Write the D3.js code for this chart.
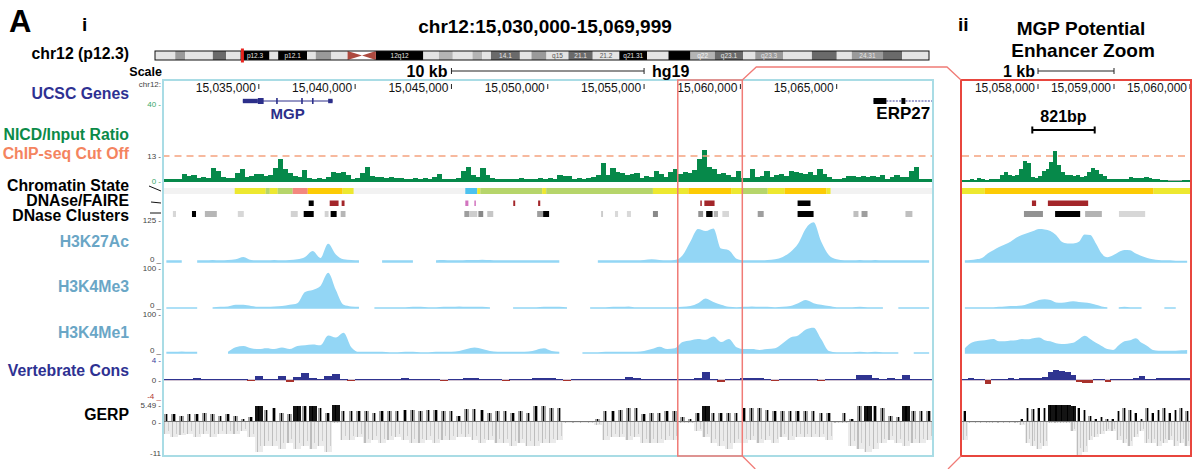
<!DOCTYPE html>
<html>
<head>
<meta charset="utf-8">
<script src="https://cdn.jsdelivr.net/npm/d3@7"></script>
<style>
  body { margin: 0; background: #fff; }
  svg { display: block; }
  text { font-family: "Liberation Sans", Arial, Helvetica, sans-serif; }
</style>
</head>
<body>
<svg id="fig" width="1201" height="469"></svg>
<script>
// ---------------- genomic windows ----------------
const viewRange = [15030000, 15070000];          // panel i
const zoomRange = [15057000, 15060000];          // panel ii
const highlightRange = [15056750, 15060100];     // box drawn in panel i
const enhancerRange = [15057925, 15058746];      // 821 bp candidate enhancer
const scaleBarMain = [15045000, 15055000];       // 10 kb
const scaleBarZoom = [15058000, 15059000];       // 1 kb
const mainTicks = [15035000, 15040000, 15045000, 15050000, 15055000, 15060000, 15065000];
const zoomTicks = [15058000, 15059000, 15060000];

// ---------------- chr12 ideogram (Mb) ----------------
const chr12Length = 133.85;
const currentPos = [15.03, 15.07];
const ideogramBands = [
  [0, 3.5, "", "gneg"], [3.5, 5.2, "", "gpos50"], [5.2, 10.0, "", "gneg"],
  [10.0, 12.3, "", "gpos75"], [12.3, 14.8, "", "gneg"], [14.8, 19.8, "p12.3", "gpos100"],
  [19.8, 21.3, "", "gneg"], [21.3, 26.3, "p12.1", "gpos100"], [26.3, 27.8, "", "gneg"],
  [27.8, 30.5, "", "gpos50"], [30.5, 33.3, "", "gneg"], [33.3, 35.8, "", "acenP"],
  [35.8, 38.2, "", "acenQ"], [38.2, 46.4, "12q12", "gpos100"], [46.4, 49.1, "", "gneg"],
  [49.1, 51.5, "", "gpos25"], [51.5, 54.9, "", "gneg"], [54.9, 56.6, "", "gpos25"],
  [56.6, 58.1, "", "gneg"], [58.1, 63.1, "14.1", "gpos75"], [63.1, 65.1, "", "gneg"],
  [65.1, 67.7, "", "gpos50"], [67.7, 71.5, "q15", "gneg"], [71.5, 75.7, "21.1", "gpos75"],
  [75.7, 80.3, "21.2", "gneg"], [80.3, 85.1, "q21.31", "gpos100"], [85.1, 88.8, "", "gneg"],
  [88.8, 92.6, "", "gpos100"], [92.6, 96.8, "q22", "gpos25"], [96.8, 101.7, "q23.1", "gpos75"],
  [101.7, 103.8, "", "gneg"], [103.8, 108.6, "q23.3", "gpos50"], [108.6, 113.6, "", "gneg"],
  [113.6, 117.9, "", "gpos75"], [117.9, 120.5, "", "gneg"], [120.5, 125.9, "24.31", "gpos50"],
  [125.9, 129.2, "", "gpos75"], [129.2, 133.85, "", "gneg"]
];

// ---------------- genes ----------------
const genes = [
  { name: "MGP", color: "#2c2f8a", labelColor: "#2c2f8a",
    exons: [[15034170, 15034950, "utr"], [15034950, 15035250, "cds"], [15035900, 15035960, "cds"],
            [15037200, 15037260, "cds"], [15037760, 15037820, "cds"], [15038600, 15038830, "utr"]],
    span: [15034170, 15038830] },
  { name: "ERP27", color: "#000000", labelColor: "#000000",
    exons: [[15066910, 15067580, "cds"], [15068360, 15068565, "cds"]],
    span: [15066910, 15070000] }
];

// ---------------- NICD / input ratio ----------------
const nicdBinMain = 250;
const nicdMain = [
  1,0.8,1,1.2,3.5,2.5,3,1.5,2,1.5, 6.8,5,2,1.5,1.5,4,6,2,2.5,3.5,
  3.5,2.5,3,7,11.5,6,4,2.5,2,5.5, 1.5,1,1.5,1,2,4.5,4,4.5,3,1,
  1.5,4,7.5,2.5,2,2,1.5,2,1.5,1.5, 1,1,1.5,1,1.5,1,2,3.6,1,1,
  1,1.5,5,7.5,3,2,6.5,3,1.5,1, 1,1,1,1,1.5,1,1,1,1.5,1,
  1.5,1,3,2.5,2.5,1,1.5,1,1.5,2, 3,9.4,3,6.8,4.5,4,3,3.5,4,1.5,
  2.5,2,5,3.5,2,4.5,6,3.5,4.5,4, 5.5,11.5,16,7.5,6,3.5,4,3,2,5,
  1.5,1.5,6,2,2.5,5,2,3,3.5,2.5, 5,4.5,4,3.5,4.5,3,6,3.5,2,0.8,
  0.8,1.5,2.5,2.5,2,2.5,2,2.5,2,3, 1,2,3,2,2,5,7.5,1,0.8,0.8
];
const nicdBinZoom = 50;
const nicdZoom = [
  0.5,0.5,0.8,0.5,1.6,1,0.5,0.8,0.8,1, 3.1,4.7,3.1,2.6,3.1,6.2,10.4,9.4,2.1,1.6,
  2.6,5.2,6.2,9.9,15.6,8.3,4.7,3.1,3.1,2.6, 3.1,2.1,2.6,4.7,6.8,5.7,3.6,2.6,1,1,
  0.8,0.8,1,1,2.1,1.8,1.6,1.6,2.3,1.3, 0.8,0.8,0.5,0.3,0,0,0,0,0.5,0.5
];
const chipCutOff = 13;

// ---------------- chromatin state segments ----------------
const chromStateColors = {
  weakEnh: "#ede830", strongEnh: "#fccb05", weakTxn: "#b6d56b",
  weakProm: "#f3877f", insulator: "#4cc2ef"
};
const chromStates = [
  [15033750, 15035360, "weakEnh"], [15035360, 15035570, "weakTxn"], [15035570, 15035980, "weakEnh"],
  [15035980, 15036760, "weakTxn"], [15036760, 15037540, "weakProm"], [15037540, 15039350, "strongEnh"],
  [15039350, 15039920, "weakEnh"], [15045720, 15046340, "insulator"], [15046340, 15046500, "weakEnh"],
  [15046500, 15049710, "weakTxn"], [15049710, 15049920, "weakEnh"], [15049920, 15055460, "weakTxn"],
  [15055460, 15057300, "weakEnh"], [15057300, 15059520, "strongEnh"], [15059520, 15060120, "weakEnh"],
  [15060120, 15061420, "weakTxn"], [15061420, 15062300, "weakEnh"], [15062300, 15064470, "strongEnh"],
  [15064470, 15064680, "weakEnh"]
];

// ---------------- DNase / FAIRE peaks ----------------
const dnaseFaireColors = { dnase: "#a3262a", faire: "#d274bf", both: "#000000" };
const dnaseFaire = [
  [15037590, 15037850, "both"], [15038680, 15039140, "dnase"], [15039300, 15039450, "dnase"],
  [15045720, 15045880, "faire"], [15046190, 15046240, "faire"], [15048210, 15048310, "dnase"],
  [15049500, 15049610, "dnase"], [15057920, 15057975, "dnase"], [15058130, 15058660, "dnase"],
  [15062970, 15063640, "both"]
];

// ---------------- DNase clusters (score 0-1000) ----------------
const dnaseClusters = [
  [15030540, 15030700, 90], [15031530, 15031740, 1000], [15032200, 15032820, 230],
  [15033910, 15034220, 90], [15036660, 15037020, 110], [15037330, 15037850, 1000],
  [15038420, 15038620, 110], [15038730, 15039040, 1000], [15039250, 15039500, 230],
  [15045670, 15045930, 330], [15045930, 15046340, 130], [15046400, 15046650, 420],
  [15046860, 15047170, 160], [15049450, 15049760, 330], [15049760, 15050070, 1000],
  [15052770, 15052870, 140], [15053490, 15053650, 80], [15054110, 15054320, 80],
  [15055460, 15055720, 420], [15057815, 15058065, 380], [15058225, 15058555, 1000],
  [15058620, 15058840, 240], [15059065, 15059410, 90], [15060900, 15061210, 330],
  [15062970, 15063800, 1000], [15065870, 15066130, 190], [15066290, 15066600, 330],
  [15068570, 15068930, 190]
];

// ---------------- histone marks ----------------
const histBinMain = 400;
const h3k27acMain = [
  5,5,5,null,5,5,6,5,6,8, 15,6,5,5,6,5,6,8,15,33,
  12,54,22,8,6,5,null,null,5,5, 5,5,5,null,null,5,6,5,5,6,
  6,7,6,5,5,5,5,5,5,5, 5,5,null,null,null,null,5,5,5,5,
  5,5,6,8,6,5,6,20,60,98, 92,100,40,35,10,5,5,5,6,8,
  15,30,55,100,118,60,20,8,5,5, 6,5,6,5,5,5,5,5,5,5
];
const h3k4me3Main = [
  2,2,2,2,2,null,2,3,4,8, 8,5,3,3,4,5,8,12,40,45,
  55,88,45,8,4,3,null,2,2,2, 2,2,3,3,2,2,3,3,4,3,
  3,3,2,null,null,2,2,2,2,3, 3,3,2,null,null,2,2,2,3,3,
  4,2,2,2,2,2,2,3,5,12, 24,15,8,3,2,3,4,3,3,2,
  3,5,12,20,12,8,5,2,2,2, 3,2,2,2,null,2,2,2,2,2
];
const h3k4me1Main = [
  3,3,4,3,3,null,null,null,3,15, 18,12,10,12,10,14,10,18,20,22,
  20,45,40,52,15,3,3,3,3,2, 2,3,3,2,2,3,3,3,5,10,
  14,10,5,3,3,3,3,4,8,12, 5,3,null,null,2,2,2,3,3,3,
  3,3,5,10,16,10,12,28,32,36, 34,42,28,36,15,10,10,8,10,12,
  25,40,45,60,65,35,5,2,2,2, 3,2,3,2,2,2,null,2,2,2
];
const histBinZoom = 75;
const h3k27acZoom = [
  5,6,8,12,25,35,45,52,60,72, 80,86,92,98,97,92,80,60,55,55,
  60,82,80,55,25,14,20,30,36,35, 25,18,12,8,6,5,5,4,4,4
];
const h3k4me3Zoom = [
  2,2,2,2,2,2,3,4,5,5, 6,10,15,20,22,20,14,13,15,17,
  15,14,12,8,4,2,null,2,3,2, 2,2,null,null,null,2,2,2,null,2
];
const h3k4me1Zoom = [
  12,25,30,32,34,36,30,30,32,33, 36,35,38,40,33,30,25,23,24,26,
  35,44,36,26,18,10,8,20,30,33, 38,26,18,8,6,6,6,6,7,8
];

// ---------------- vertebrate conservation ----------------
const consBinMain = 400;
const consMain = [
  0.2,0.2,0.3,0.2,0.4,0.3,0.3,0.2,0.3,0.2, 0.2,-0.2,0.9,0.2,0.3,0.9,-0.3,0.6,1.5,0.4,
  0.3,0.8,1.2,0.3,-0.2,0.2,0.2,0.3,0.2,0.2, 0.2,0.5,0.3,0.2,0.3,0.3,-0.2,0.2,0.2,0.5,
  0.4,0.3,0.2,0.3,-0.2,0.2,0.2,0.2,0.4,0.5, 0.4,0.2,-0.1,0.2,0.2,0.2,0.2,0.3,0.2,0.3,
  0.6,0.4,0.2,0.2,0.2,0.2,0.2,0.2,0.2,0.4, 1.6,0.3,-0.3,0.2,0.2,0.5,0.5,0.4,0.2,-0.2,
  0.2,0.2,0.2,0.2,0.2,-0.2,0.2,0.2,0.2,0.3, 1.0,1.1,0.4,0.2,0.4,0.2,1.0,0.3,0.2,0.2
];
const consBinZoom = 75;
const consZoom = [
  0.3,0.4,0.2,0.3,-0.8,0.3,0.2,0.3,0.4,0.3, 0.5,0.4,0.4,0.5,0.6,1.6,2.1,1.9,1.6,1.1,
  -0.4,-0.6,-0.5,0.3,0.2,-0.3,0.3,0.2,0.3,0.3, 0.5,0.8,0.2,0.2,0.4,0.5,0.4,0.5,0.4,0.4
];

// ---------------- GERP ----------------
const gerpBinMain = 400;
const gerpMaxMain = [
  2.5,2.5,2,2.5,2.5,3,2.5,2,2.5,2, 1,1.5,5.3,4,4.5,3,2.5,5.2,5,5.3,
  4.5,3,5.4,3.5,3.5,3.5,3.5,3,3.5,3.5, 3.5,4,4,3.5,4,4,3.5,3.5,2,4.3,
  4.3,4,3,3.5,3.5,3,3.5,3,5,5, 4.5,4.5,0.3,0.2,0.2,0.3,1,3.5,3.5,4,
  4.5,4.5,2.5,3,3,3.5,3.5,1.5,0.8,3, 5.2,3,3,3,3,4.5,4.5,4.5,4,3.5,
  3.5,3.5,3.5,3.5,3.5,3,3,0.3,3,1, 5,5.2,5,4.5,2,1.5,5.3,3.5,3.5,3.5
];
const gerpMinMain = [
  -4,-5,-4.5,-4,-5,-4,-5,-4,-4,-4, -3,-5,-10,-8,-8,-9,-7,-9,-8,-9,
  -8,-10,-0.5,-6,-6,-5,-7,-6,-7,-6, -5,-6,-7,-7,-6,-7,-6,-6,-5,-5,
  -6,-7,-6,-7,-7,-8,-7,-8,-8,-7, -7,-6,-0.3,-0.3,-0.3,-0.4,-1,-6,-5,-5,
  -6,-5,-7,-7,-7,-6,-6,-0.5,-0.5,-3, -5,-7,-8,-9,-7,-7,-6,-7,-6,-7,
  -5,-6,-5,-5,-5,-5,-6,-0.4,-0.5,-8, -9,-10,-9,-7,-6,-7,-8,-7,-7,-6
];
const gerpBinZoom = 75;
const gerpMaxZoom = [
  3.5,0.3,0.2,0.2,0.2,0.2,0.2,0.2,0.3,0.3, 1,4.5,4.2,4.5,4.5,5.4,5.4,5.4,5.4,5.3,
  4.5,4,2,1,1.5,0.8,0.8,3.5,4.5,4, 3,1,4.5,3,4,4.5,3,4,4.5,3.5
];
const gerpMinZoom = [
  -6,-0.3,-0.3,-0.3,-0.4,-0.3,-0.3,-0.3,-0.3,-0.4, -1,-7,-8,-9,-8,-0.5,-0.5,-0.5,-0.5,-3,
  -11,-10,-6,-5,-4,-3,-3,-6,-7,-8, -5,-3,-7,-7,-8,-7,-6,-8,-7,-8
];

// ---------------- drawing ----------------
const svg = d3.select("#fig");
const defs = svg.append("defs");

const xMain = d3.scaleLinear().domain(viewRange).range([162.5, 933]);
const xZoom = d3.scaleLinear().domain(zoomRange).range([962, 1190]);

const yNicd = d3.scaleLinear().domain([0, 40]).range([181, 104]);
const yK27 = d3.scaleLinear().domain([0, 125]).range([262, 220]);
const yMe3 = d3.scaleLinear().domain([0, 100]).range([308, 268]);
const yMe1 = d3.scaleLinear().domain([0, 100]).range([353, 314]);
const yCons = d3.scaleLinear().domain([-4, 4]).range([400, 360]);
const yGerp = d3.scaleLinear().domain([-11, 5.49]).range([455, 405]);
const clusterShade = d3.scaleLinear().domain([0, 1000]).range(["#ececec", "#000000"]);

const TRACK_TOP = 80, TRACK_BOTTOM = 456;
const HIST_FILL = "#93d6f5";

function txt(g, s, x, y, opts = {}) {
  return g.append("text").attr("x", x).attr("y", y).text(s)
    .attr("font-size", opts.size || 12)
    .attr("font-weight", opts.bold ? "bold" : "normal")
    .attr("fill", opts.color || "#000")
    .attr("text-anchor", opts.anchor || "start");
}

function drawPanel(p, id) {
  const x = p.x;
  const [d0, d1] = x.domain();
  defs.append("clipPath").attr("id", "clip-" + id)
    .append("rect").attr("x", x(d0)).attr("y", TRACK_TOP).attr("width", x(d1) - x(d0)).attr("height", TRACK_BOTTOM - TRACK_TOP);
  const g = svg.append("g").attr("clip-path", `url(#clip-${id})`);

  // NICD / input ratio
  g.append("line").attr("x1", x(d0)).attr("x2", x(d1)).attr("y1", yNicd(0)).attr("y2", yNicd(0))
    .attr("stroke", "#8a8a8a").attr("stroke-width", 1.4);
  g.append("g").attr("shape-rendering", "crispEdges").selectAll("rect").data(p.nicd).join("rect")
    .attr("x", (d, i) => x(d0 + i * p.nicdBin))
    .attr("width", (d, i) => x(d0 + (i + 1) * p.nicdBin) - x(d0 + i * p.nicdBin) + 0.4)
    .attr("y", d => yNicd(d)).attr("height", d => yNicd(0) - yNicd(d) + 0.6)
    .attr("fill", "#06894a");
  g.append("line").attr("x1", x(d0)).attr("x2", x(d1)).attr("y1", yNicd(chipCutOff)).attr("y2", yNicd(chipCutOff))
    .attr("stroke", "#f5a27f").attr("stroke-width", 1.4).attr("stroke-dasharray", "7,5");

  // chromatin state
  g.append("rect").attr("x", x(d0)).attr("width", x(d1) - x(d0)).attr("y", 188).attr("height", 6).attr("fill", "#f2f2f2");
  g.selectAll(".cs").data(chromStates).join("rect").attr("class", "cs")
    .attr("x", d => x(d[0])).attr("width", d => Math.max(1, x(d[1]) - x(d[0])))
    .attr("y", 188).attr("height", 6).attr("fill", d => chromStateColors[d[2]]);

  // DNase / FAIRE
  g.selectAll(".df").data(dnaseFaire).join("rect").attr("class", "df")
    .attr("x", d => x(d[0])).attr("width", d => Math.max(1.5, x(d[1]) - x(d[0])))
    .attr("y", 200.5).attr("height", 5.5).attr("fill", d => dnaseFaireColors[d[2]]);

  // DNase clusters
  g.selectAll(".dc").data(dnaseClusters).join("rect").attr("class", "dc")
    .attr("x", d => x(d[0])).attr("width", d => Math.max(1.5, x(d[1]) - x(d[0])))
    .attr("y", 211).attr("height", 6).attr("fill", d => clusterShade(d[2]));

  // histone signal
  [[p.k27, yK27], [p.me3, yMe3], [p.me1, yMe1]].forEach(([vals, y]) => {
    const area = d3.area()
      .defined(d => d != null)
      .x((d, i) => x(d0 + (i + 0.5) * p.histBin))
      .y0(y(0) + 0.8).y1(d => y(d))
      .curve(d3.curveMonotoneX);
    g.append("path").datum(vals).attr("d", area).attr("fill", HIST_FILL);
  });

  // vertebrate conservation
  g.append("line").attr("x1", x(d0)).attr("x2", x(d1)).attr("y1", yCons(0)).attr("y2", yCons(0))
    .attr("stroke", "#8c6a90").attr("stroke-width", 0.8);
  g.append("g").attr("shape-rendering", "crispEdges").selectAll("rect").data(p.cons).join("rect")
    .attr("x", (d, i) => x(d0 + i * p.consBin))
    .attr("width", (d, i) => x(d0 + (i + 1) * p.consBin) - x(d0 + i * p.consBin) + 0.3)
    .attr("y", d => Math.min(yCons(d), yCons(0)))
    .attr("height", d => Math.max(1, Math.abs(yCons(d) - yCons(0))))
    .attr("fill", d => d >= 0 ? "#2f3490" : "#a8322c");

  // GERP: light band for each bin plus a darker stroke marking the bin's extreme
  const gg = g.append("g").attr("shape-rendering", "crispEdges");
  const bx = i => x(d0 + i * p.gerpBin);
  const bw = i => x(d0 + (i + 1) * p.gerpBin) - x(d0 + i * p.gerpBin);
  gg.selectAll(".gn").data(p.gerpMin).join("rect").attr("class", "gn")
    .attr("x", (d, i) => bx(i)).attr("width", (d, i) => bw(i) + 0.3)
    .attr("y", yGerp(0)).attr("height", d => yGerp(d) - yGerp(0)).attr("fill", "#ebebeb");
  gg.selectAll(".gnl").data(p.gerpMin).join("rect").attr("class", "gnl")
    .attr("x", (d, i) => bx(i) + bw(i) * 0.2).attr("width", 1.2)
    .attr("y", yGerp(0)).attr("height", d => yGerp(d) - yGerp(0)).attr("fill", "#bdbdbd");
  gg.selectAll(".gnl2").data(p.gerpMin).join("rect").attr("class", "gnl2")
    .attr("x", (d, i) => bx(i) + bw(i) * 0.7).attr("width", 1)
    .attr("y", yGerp(0)).attr("height", d => (yGerp(d) - yGerp(0)) * 0.8).attr("fill", "#cdcdcd");
  gg.selectAll(".gp").data(p.gerpMax).join("rect").attr("class", "gp")
    .attr("x", (d, i) => d > 5 ? bx(i) : bx(i) + bw(i) * 0.15)
    .attr("width", (d, i) => d > 5 ? bw(i) + 0.3 : bw(i) * 0.6)
    .attr("y", d => yGerp(d)).attr("height", d => yGerp(0) - yGerp(d))
    .attr("fill", d => d > 5 ? "#141414" : "#a3a3a3");
  gg.selectAll(".gpl").data(p.gerpMax).join("rect").attr("class", "gpl")
    .attr("x", (d, i) => bx(i) + bw(i) * 0.4).attr("width", 1.3)
    .attr("y", d => yGerp(d)).attr("height", d => yGerp(0) - yGerp(d)).attr("fill", "#000");
  gg.append("line").attr("x1", x(d0)).attr("x2", x(d1)).attr("y1", yGerp(0)).attr("y2", yGerp(0))
    .attr("stroke", "#777").attr("stroke-width", 1);

  // coordinate ruler
  const r = svg.append("g");
  p.ticks.forEach(t => {
    r.append("line").attr("x1", x(t)).attr("x2", x(t)).attr("y1", 84).attr("y2", 89)
      .attr("stroke", "#222").attr("stroke-width", 1);
    txt(r, d3.format(",")(t), x(t) - 3, 92, { size: 12, anchor: "end", color: "#111" });
  });
}

drawPanel({
  x: xMain, ticks: mainTicks,
  nicd: nicdMain, nicdBin: nicdBinMain,
  k27: h3k27acMain, me3: h3k4me3Main, me1: h3k4me1Main, histBin: histBinMain,
  cons: consMain, consBin: consBinMain,
  gerpMax: gerpMaxMain, gerpMin: gerpMinMain, gerpBin: gerpBinMain
}, "main");

drawPanel({
  x: xZoom, ticks: zoomTicks,
  nicd: nicdZoom, nicdBin: nicdBinZoom,
  k27: h3k27acZoom, me3: h3k4me3Zoom, me1: h3k4me1Zoom, histBin: histBinZoom,
  cons: consZoom, consBin: consBinZoom,
  gerpMax: gerpMaxZoom, gerpMin: gerpMinZoom, gerpBin: gerpBinZoom
}, "zoom");

// genes (panel i)
const gGenes = svg.append("g").attr("clip-path", "url(#clip-main)");
const GENE_Y = 101;
genes.forEach(gene => {
  const [s, e] = gene.span;
  gGenes.append("line").attr("x1", xMain(s)).attr("x2", Math.min(xMain(e), xMain(viewRange[1])))
    .attr("y1", GENE_Y).attr("y2", GENE_Y).attr("stroke", gene.name === "ERP27" ? "#3a3f9c" : gene.color)
    .attr("stroke-width", 1).attr("stroke-dasharray", gene.name === "ERP27" ? "2,1.2" : null);
  gGenes.selectAll(null).data(gene.exons).join("rect")
    .attr("x", d => xMain(d[0])).attr("width", d => Math.max(1.6, xMain(d[1]) - xMain(d[0])))
    .attr("y", d => d[2] === "cds" ? GENE_Y - 3 : GENE_Y - 2.2)
    .attr("height", d => d[2] === "cds" ? 6 : 4.4)
    .attr("fill", gene.color);
  const mid = (s + Math.min(e, viewRange[1])) / 2;
  txt(gGenes, gene.name, xMain(mid), 119, { size: gene.name === "MGP" ? 15 : 17, bold: true, anchor: "middle", color: gene.labelColor });
});

// frames
svg.append("rect").attr("x", xMain.range()[0] + 0.5).attr("y", TRACK_TOP).attr("width", xMain.range()[1] - xMain.range()[0] - 0.5)
  .attr("height", TRACK_BOTTOM - TRACK_TOP).attr("fill", "none").attr("stroke", "#a9dce5").attr("stroke-width", 2);
svg.append("rect").attr("x", xZoom.range()[0] - 1).attr("y", TRACK_TOP).attr("width", xZoom.range()[1] - xZoom.range()[0] + 2)
  .attr("height", TRACK_BOTTOM - TRACK_TOP).attr("fill", "none").attr("stroke", "#e8463e").attr("stroke-width", 2);

const hx0 = xMain(highlightRange[0]), hx1 = xMain(highlightRange[1]);
const zx0 = xZoom.range()[0] - 1;
const hiColor = "#f07b76";
svg.append("rect").attr("x", hx0).attr("y", TRACK_TOP).attr("width", hx1 - hx0).attr("height", TRACK_BOTTOM - TRACK_TOP)
  .attr("fill", "none").attr("stroke", hiColor).attr("stroke-width", 1.5);
svg.append("path").attr("d", `M${hx1},${TRACK_TOP} L${hx1 + 14},67 L${zx0 - 14},67 L${zx0},${TRACK_TOP}`)
  .attr("fill", "none").attr("stroke", hiColor).attr("stroke-width", 1.3);
svg.append("path").attr("d", `M${hx1},${TRACK_BOTTOM} L${hx1 + 13},469`)
  .attr("fill", "none").attr("stroke", hiColor).attr("stroke-width", 1.3);
svg.append("path").attr("d", `M${zx0},${TRACK_BOTTOM} L${zx0 - 13},469`)
  .attr("fill", "none").attr("stroke", hiColor).attr("stroke-width", 1.3);

// scale bars
function scaleBar(x, range, y) {
  const g = svg.append("g").attr("stroke", "#222").attr("stroke-width", 1);
  g.append("line").attr("x1", x(range[0])).attr("x2", x(range[1])).attr("y1", y).attr("y2", y);
  g.append("line").attr("x1", x(range[0])).attr("x2", x(range[0])).attr("y1", y - 3).attr("y2", y + 3);
  g.append("line").attr("x1", x(range[1])).attr("x2", x(range[1])).attr("y1", y - 3).attr("y2", y + 3);
}
scaleBar(xMain, scaleBarMain, 71);
txt(svg, "10 kb", xMain(scaleBarMain[0]) - 4, 76.5, { size: 16, bold: true, anchor: "end" });
txt(svg, "hg19", xMain(scaleBarMain[1]) + 8, 76.5, { size: 16, bold: true });
scaleBar(xZoom, scaleBarZoom, 71);
txt(svg, "1 kb", xZoom(scaleBarZoom[0]) - 3, 76.5, { size: 16, bold: true, anchor: "end" });

// enhancer bar (panel ii)
{
  const g = svg.append("g").attr("stroke", "#000").attr("stroke-width", 2);
  const a = xZoom(enhancerRange[0]), b = xZoom(enhancerRange[1]);
  g.append("line").attr("x1", a).attr("x2", b).attr("y1", 130).attr("y2", 130);
  g.append("line").attr("x1", a).attr("x2", a).attr("y1", 126.5).attr("y2", 133.5);
  g.append("line").attr("x1", b).attr("x2", b).attr("y1", 126.5).attr("y2", 133.5);
  txt(svg, (enhancerRange[1] - enhancerRange[0]) + "bp", (a + b) / 2, 122, { size: 16, bold: true, anchor: "middle" });
}

// ideogram
{
  const xi = d3.scaleLinear().domain([0, chr12Length]).range([155, 929]);
  const top = 51, h = 9;
  const g = svg.append("g");
  const stainFill = { gneg: "#e4e4e4", gpos25: "#b4b4b4", gpos50: "#9a9a9a", gpos75: "#6a6a6a", gpos100: "#000" };
  g.selectAll(".band").data(ideogramBands.filter(b => !b[3].startsWith("acen"))).join("rect")
    .attr("x", d => xi(d[0])).attr("width", d => xi(d[1]) - xi(d[0])).attr("y", top).attr("height", h)
    .attr("fill", d => stainFill[d[3]]);
  ideogramBands.filter(b => b[3] === "acenP").forEach(b => {
    g.append("path").attr("d", `M${xi(b[0])},${top} L${xi(b[1])},${top + h / 2} L${xi(b[0])},${top + h} Z`).attr("fill", "#ad4a3f");
  });
  ideogramBands.filter(b => b[3] === "acenQ").forEach(b => {
    g.append("path").attr("d", `M${xi(b[1])},${top} L${xi(b[0])},${top + h / 2} L${xi(b[1])},${top + h} Z`).attr("fill", "#ad4a3f");
  });
  g.append("rect").attr("x", xi(0)).attr("y", top).attr("width", xi(chr12Length) - xi(0)).attr("height", h)
    .attr("fill", "none").attr("stroke", "#111").attr("stroke-width", 1);
  ideogramBands.filter(b => b[2]).forEach(b => {
    txt(g, b[2], (xi(b[0]) + xi(b[1])) / 2, top + 7, {
      size: 6.5, anchor: "middle",
      color: (b[3] === "gneg" || b[3] === "gpos25") ? (b[3] === "gpos25" ? "#f4f4f4" : "#555") : "#e6e6e6"
    });
  });
  g.append("rect").attr("x", xi(currentPos[0]) - 1).attr("width", Math.max(3, xi(currentPos[1]) - xi(currentPos[0])))
    .attr("y", top - 2.5).attr("height", h + 5).attr("fill", "#e8251f");
}

// titles and panel letters
txt(svg, "A", 9, 32, { size: 31, bold: true });
txt(svg, "i", 82, 31, { size: 19, bold: true });
txt(svg, "ii", 958, 31, { size: 19, bold: true });
txt(svg, "chr12:15,030,000-15,069,999", 545, 33, { size: 19, bold: true, anchor: "middle" });
txt(svg, "MGP Potential", 1081, 35, { size: 19, bold: true, anchor: "middle" });
txt(svg, "Enhancer Zoom", 1083, 57, { size: 19, bold: true, anchor: "middle" });
txt(svg, "Scale", 162, 76, { size: 12.5, bold: true, anchor: "end" });
txt(svg, "chr12:", 161, 87, { size: 8, anchor: "end", color: "#444" });

// track labels
const LABEL_X = 129;
const trackLabels = [
  ["chr12 (p12.3)", 59, "#000"], ["UCSC Genes", 99, "#2e3192"],
  ["NICD/Input Ratio", 140, "#0b8a48"], ["ChIP-seq Cut Off", 159, "#f4845f"],
  ["Chromatin State", 190.5, "#000"], ["DNAse/FAIRE", 205.5, "#000"], ["DNase Clusters", 220.5, "#000"],
  ["H3K27Ac", 247, "#6aa6c6"], ["H3K4Me3", 291.5, "#6aa6c6"], ["H3K4Me1", 338, "#6aa6c6"],
  ["Vertebrate Cons", 376, "#2e3192"], ["GERP", 420, "#000"]
];
trackLabels.forEach(([s, y, c]) => txt(svg, s, LABEL_X, y, { size: 15.8, bold: true, anchor: "end", color: c }));

// small pointer strokes next to the compact tracks
svg.append("path").attr("d", "M149,186 L161,191 M151,202 L161,203 M150,213 L161,213")
  .attr("stroke", "#111").attr("stroke-width", 1).attr("fill", "none");

// y-axis value labels
const axisLabels = [
  [yNicd(40) + 3, "40 -", "#3aa96a"], [yNicd(chipCutOff) + 3, "13 -", "#444"], [yNicd(0) + 3, "0 -", "#3aa96a"],
  [yK27(125) + 3, "125 -", "#444"], [yK27(0), "0 _", "#444"],
  [yMe3(100) + 3, "100 -", "#444"], [yMe3(0), "0 _", "#444"],
  [yMe1(100) + 3, "100 -", "#444"], [yMe1(0), "0 _", "#444"],
  [yCons(4) + 3, "4 -", "#3a3f9c"], [yCons(0) + 3, "0 -", "#444"], [yCons(-4) - 1, "-4 _", "#b23a33"],
  [yGerp(5.49) + 3, "5.49 -", "#444"], [yGerp(0) + 3, "0 -", "#444"], [yGerp(-11) + 1, "-11", "#444"]
];
axisLabels.forEach(([y, s, c]) => txt(svg, s, 161, y, { size: 8, anchor: "end", color: c }));
</script>
</body>
</html>
